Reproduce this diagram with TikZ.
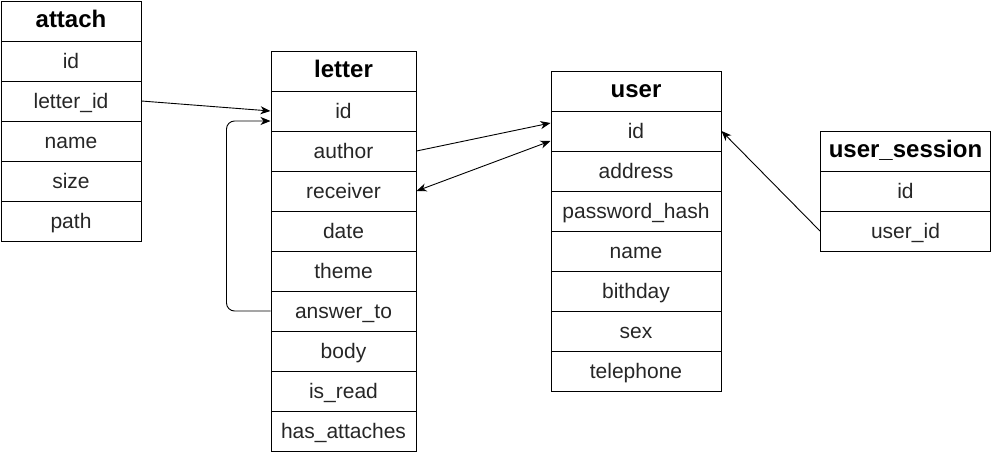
\documentclass[tikz,border=0pt]{standalone}
\usepackage{fontspec}
\setmainfont{Liberation Sans}
\usetikzlibrary{arrows.meta}
\begin{document}
\begin{tikzpicture}[x=1pt,y=-1pt,
  row/.style={draw=black, line width=1pt, rectangle, minimum height=40pt, inner sep=0pt, anchor=north west, text height=18pt, text depth=3pt, font=\fontsize{21}{25}\selectfont, text=black!85},
  head/.style={row, text height=17pt, text depth=4pt, font=\fontsize{24}{28}\selectfont\bfseries, text=black},
  conn/.style={line width=0.9pt, -{Stealth[length=10pt,width=8pt,inset=3pt]}},
  conn2/.style={line width=0.9pt, {Stealth[length=10pt,width=8pt,inset=3pt]}-{Stealth[length=10pt,width=8pt,inset=3pt]}}]
\useasboundingbox (0,0) rectangle (991,451);
% attach
\node[head, minimum width=140pt] (attach-0) at (0.5,0.5) {attach};
\foreach \t [count=\i] in {id, letter\_id, name, size, path}
  \node[row, minimum width=140pt] (attach-\i) at (0.5,0.5+40*\i) {\t};
% letter
\node[head, minimum width=145pt] (letter-0) at (270.5,50.5) {letter};
\foreach \t [count=\i] in {id, author, receiver, date, theme, answer\_to, body, is\_read, has\_attaches}
  \node[row, minimum width=145pt] (letter-\i) at (270.5,50.5+40*\i) {\t};
% user
\node[head, minimum width=170pt] (user-0) at (550.5,70.5) {user};
\foreach \t [count=\i] in {id, address, password\_hash, name, bithday, sex, telephone}
  \node[row, minimum width=170pt] (user-\i) at (550.5,70.5+40*\i) {\t};
% user_session
\node[head, minimum width=170pt] (us-0) at (820,130.5) {user\_session};
\foreach \t [count=\i] in {id, user\_id}
  \node[row, minimum width=170pt] (us-\i) at (820,130.5+40*\i) {\t};
% connectors
\draw[conn] (attach-2.east) -- (letter-1.west);
\draw[conn, rounded corners=8pt] (letter-6.west) -- ++(-44,0) |- ([yshift=-10pt]letter-1.west);
\draw[conn] (letter-2.east) -- ([yshift=8pt]user-1.west);
\draw[conn2] (letter-3.east) -- ([yshift=-10pt]user-1.west);
\draw[conn] (us-2.west) -- (user-1.east);
\end{tikzpicture}
\end{document}
